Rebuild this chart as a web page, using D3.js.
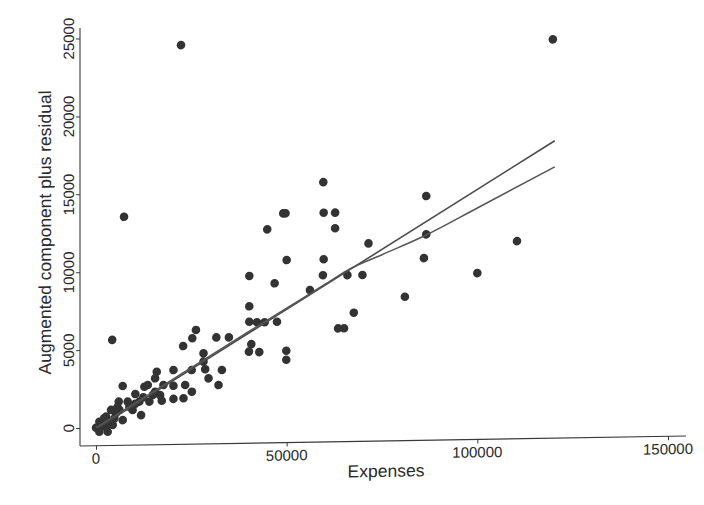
<!DOCTYPE html>
<html>
<head>
<meta charset="utf-8">
<script src="https://cdn.jsdelivr.net/npm/d3@7"></script>
<style>
  html, body { margin: 0; padding: 0; background: #fff; }
  svg { display: block; }
  text { font-family: "Liberation Sans", Arial, sans-serif; fill: #2a2a2a; }
</style>
</head>
<body>
<svg id="chart" width="704" height="505"></svg>
<script>
// Expenses (x) against augmented component plus residual (y)
const expenses = [
  22300, 119800, 7350, 59600, 86600, 49100, 49700, 59700, 62700, 44900,
  62700, 71450, 86600, 110400, 50000, 59700, 86000, 40200, 46840, 59500,
  65930, 69870, 100000, 56100, 81000, 40200, 67600, 40200, 42210, 44220,
  47460, 63480, 65050, 40720, 40100, 42820, 49900, 49900, 4240, 26200,
  25250, 31550, 34850, 22850, 28190, 28190, 25100, 28630, 33010, 29510,
  15930, 20310, 15500, 32130, 17680, 20310, 23380, 25130, 15500, 16810,
  20310, 22940, 17250, 7000, 10320, 13570, 12680, 14880, 5950, 8300,
  11370, 14000, 3940, 6120, 8750, 11820, 2630, 4810, 7000, 870,
  1310, 0, 2630, 4380, 870, 3070, 1800, 3300, 5200, 9600,
  10300, 12400, 2100, 5600
];
const acpr = [
  24470, 24440, 13510, 15520, 14520, 13560, 13560, 13560, 13550, 12550,
  12550, 11540, 12060, 11530, 10560, 10570, 10540, 9580, 9080, 9550,
  9530, 9520, 9520, 8610, 8080, 7630, 7110, 6640, 6600, 6590,
  6610, 6120, 6120, 5200, 4720, 4680, 4740, 4160, 5620, 6170,
  5640, 5670, 5660, 5150, 4660, 4130, 3600, 3640, 3570, 3050,
  3530, 3620, 3110, 2610, 2670, 2610, 2650, 2210, 2250, 2030,
  1770, 1800, 1660, 2650, 2120, 2690, 2580, 2040, 1650, 1640,
  1630, 1620, 1130, 1120, 1320, 760, 700, 580, 460, 380,
  60, 0, 50, 160, -260, -270, 250, 450, 900, 1100,
  1500, 1900, 600, 1300
];

// Linear fit and lowess smooth
const fitX = [600, 120300];
const fitY = [0, 17930];
const smoothX = [0, 10000, 20000, 30000, 40000, 50000, 60000, 66000, 75000, 86600, 100000, 120300];
const smoothY = [0, 1500, 3000, 4500, 6000, 7480, 8950, 9850, 10800, 12020, 13700, 16260];

const xTicks = [0, 50000, 100000, 150000];
const yTicks = [0, 5000, 10000, 15000, 20000, 25000];

const svg = d3.select("#chart");
const g = svg.append("g")
  .attr("transform", "translate(80,0) skewY(-0.95) translate(-80,0)");

const x = d3.scaleLinear().domain([0, 150000]).range([96, 668]);
const y = d3.scaleLinear().domain([0, 25000]).range([428, 38.5]);

const axisColor = "#3a3a3a";

// y axis
const yAxis = g.append("g")
  .attr("transform", "translate(80,0)")
  .call(d3.axisLeft(y).tickValues(yTicks).tickSize(4).tickFormat(""));
yAxis.select(".domain").remove();
yAxis.selectAll(".tick line").attr("stroke", axisColor).attr("stroke-width", 1);
g.append("line")
  .attr("x1", 80).attr("x2", 80).attr("y1", 28).attr("y2", 446)
  .attr("stroke", axisColor).attr("stroke-width", 1.1);
g.append("g").selectAll("text").data(yTicks).join("text")
  .attr("transform", d => `translate(73.5,${y(d)}) rotate(-90)`)
  .attr("text-anchor", "middle")
  .attr("font-size", 15)
  .text(d => d);

// x axis
const xAxis = g.append("g")
  .attr("transform", "translate(0,446)")
  .call(d3.axisBottom(x).tickValues(xTicks).tickSize(4).tickFormat(""));
xAxis.select(".domain").remove();
xAxis.selectAll(".tick line").attr("stroke", axisColor).attr("stroke-width", 1);
g.append("line")
  .attr("x1", 80).attr("x2", 686).attr("y1", 446).attr("y2", 446)
  .attr("stroke", axisColor).attr("stroke-width", 1.1);
g.append("g").selectAll("text").data(xTicks).join("text")
  .attr("x", d => x(d)).attr("y", 464)
  .attr("text-anchor", "middle")
  .attr("font-size", 15)
  .text(d => d);

// axis titles
g.append("text")
  .attr("transform", "translate(51,232) rotate(-90)")
  .attr("text-anchor", "middle")
  .attr("font-size", 17.5)
  .text("Augmented component plus residual");
g.append("text")
  .attr("x", 386).attr("y", 482)
  .attr("text-anchor", "middle")
  .attr("font-size", 17.5)
  .text("Expenses");

// scatter points
const pts = expenses.map((v, i) => [v, acpr[i]]);
g.append("g").selectAll("circle").data(pts).join("circle")
  .attr("cx", d => x(d[0])).attr("cy", d => y(d[1]))
  .attr("r", 4.3)
  .attr("fill", "#333");

// fitted lines
const line = d3.line().x(d => x(d[0])).y(d => y(d[1]));
g.append("path")
  .datum(fitX.map((v, i) => [v, fitY[i]]))
  .attr("d", line)
  .attr("fill", "none").attr("stroke", "#4a4a4a").attr("stroke-width", 1.6);
g.append("path")
  .datum(smoothX.map((v, i) => [v, smoothY[i]]))
  .attr("d", d3.line().curve(d3.curveMonotoneX).x(d => x(d[0])).y(d => y(d[1])))
  .attr("fill", "none").attr("stroke", "#555").attr("stroke-width", 1.5);
</script>
</body>
</html>
